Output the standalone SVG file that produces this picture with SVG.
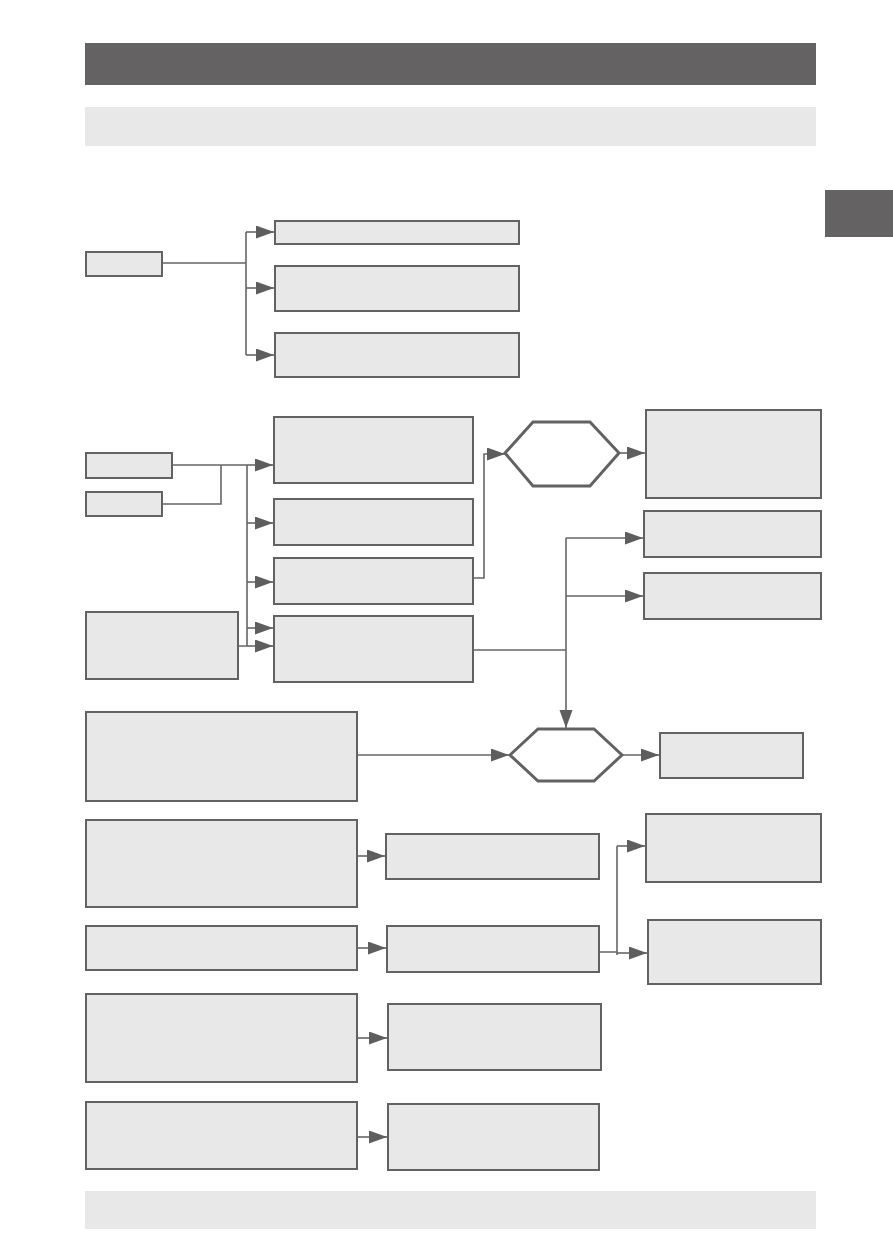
<svg xmlns="http://www.w3.org/2000/svg" width="893" height="1259" viewBox="0 0 893 1259">
<style>
.bar{fill:#656263}
.band{fill:#e8e8e8}
.box{fill:#e8e8e8;stroke:#626262;stroke-width:2}
.hex{fill:#fff;stroke:#626262;stroke-width:3}
.ln{fill:none;stroke:#666;stroke-width:1.6}
.ar{fill:none;stroke:#666;stroke-width:1.6;marker-end:url(#ah)}
</style>
<defs>
<marker id="ah" markerUnits="userSpaceOnUse" markerWidth="19" markerHeight="14" refX="18" refY="6.5" orient="auto">
<path d="M0,0 L18,6.5 L0,13 Z" fill="#5e5e5e"/>
</marker>
</defs>
<rect width="893" height="1259" fill="#fff"/>
<g id="header"><rect class="bar" x="85" y="43" width="731" height="42"/></g>
<g id="subheader"><rect class="band" x="85" y="107" width="731" height="39"/></g>
<g id="tab"><rect class="bar" x="825" y="190" width="68" height="47"/></g>
<g id="footer"><rect class="band" x="85" y="1191" width="731" height="38"/></g>

<g id="A"><rect class="box" x="86" y="252" width="76" height="24"/></g>
<g id="B1"><rect class="box" x="275" y="221" width="244" height="23"/></g>
<g id="B2"><rect class="box" x="275" y="266" width="244" height="45"/></g>
<g id="B3"><rect class="box" x="275" y="333" width="244" height="44"/></g>

<g id="C1"><rect class="box" x="86" y="453" width="86" height="25"/></g>
<g id="C2"><rect class="box" x="86" y="492" width="76" height="24"/></g>
<g id="C3"><rect class="box" x="86" y="612" width="152" height="67"/></g>
<g id="D1"><rect class="box" x="274" y="417" width="199" height="66"/></g>
<g id="D2"><rect class="box" x="274" y="499" width="199" height="46"/></g>
<g id="D3"><rect class="box" x="274" y="558" width="199" height="46"/></g>
<g id="D4"><rect class="box" x="274" y="616" width="199" height="66"/></g>

<g id="HEX1"><polygon class="hex" points="505,453 533,422 590,422 619,453 590,486 533,486"/></g>
<g id="E1"><rect class="box" x="646" y="410" width="175" height="88"/></g>
<g id="E2"><rect class="box" x="644" y="511" width="177" height="46"/></g>
<g id="E3"><rect class="box" x="644" y="573" width="177" height="46"/></g>

<g id="F1"><rect class="box" x="86" y="712" width="271" height="89"/></g>
<g id="HEX2"><polygon class="hex" points="510,755 538,729 594,729 622,755 594,781 538,781"/></g>
<g id="G1"><rect class="box" x="660" y="733" width="143" height="45"/></g>

<g id="H1"><rect class="box" x="86" y="820" width="271" height="87"/></g>
<g id="H2"><rect class="box" x="386" y="834" width="213" height="45"/></g>
<g id="I1"><rect class="box" x="646" y="814" width="175" height="68"/></g>
<g id="J1"><rect class="box" x="86" y="926" width="271" height="44"/></g>
<g id="J2"><rect class="box" x="387" y="926" width="212" height="46"/></g>
<g id="I2"><rect class="box" x="648" y="920" width="173" height="64"/></g>
<g id="K1"><rect class="box" x="86" y="994" width="271" height="88"/></g>
<g id="K2"><rect class="box" x="388" y="1004" width="213" height="66"/></g>
<g id="L1"><rect class="box" x="86" y="1102" width="271" height="67"/></g>
<g id="L2"><rect class="box" x="388" y="1104" width="211" height="66"/></g>

<g id="connectors">
<path class="ln" d="M162,263 H246 M246,232 V355"/>
<path class="ar" d="M246,232 H274"/>
<path class="ar" d="M246,288 H274"/>
<path class="ar" d="M246,355 H274"/>

<path class="ln" d="M172,465 H247 M162,504 H221 V465 M247,465 V646 M238,646 H247"/>
<path class="ar" d="M247,465 H273"/>
<path class="ar" d="M247,523 H273"/>
<path class="ar" d="M247,582 H273"/>
<path class="ar" d="M247,628 H273"/>
<path class="ar" d="M247,646 H273"/>

<path class="ar" d="M473,578 H484 V454 H505"/>
<path class="ar" d="M619,453 H645"/>

<path class="ln" d="M473,650 H566 M566,538 V650"/>
<path class="ar" d="M566,538 H643"/>
<path class="ar" d="M566,596 H643"/>
<path class="ar" d="M566,650 V728"/>

<path class="ar" d="M357,755 H509"/>
<path class="ar" d="M622,755 H659"/>

<path class="ar" d="M357,856 H385"/>
<path class="ar" d="M357,948 H386"/>
<path class="ln" d="M599,952 H617 M617,846 V955"/>
<path class="ar" d="M617,846 H645"/>
<path class="ar" d="M617,953 H647"/>
<path class="ar" d="M357,1038 H387"/>
<path class="ar" d="M357,1137 H387"/>
</g>
</svg>
